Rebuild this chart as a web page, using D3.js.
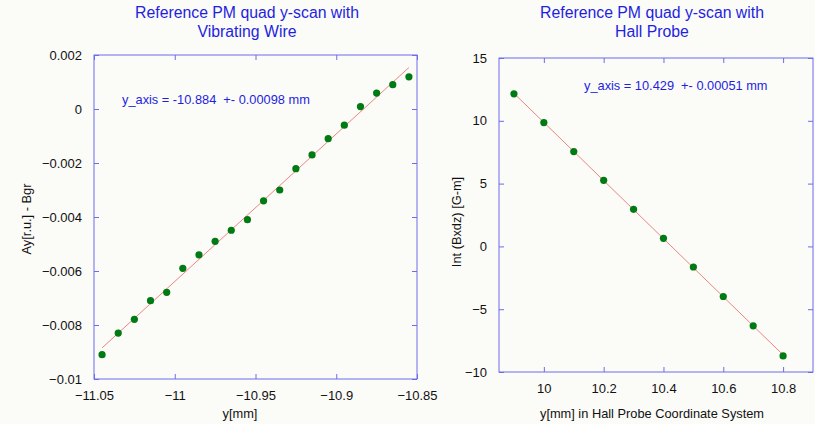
<!DOCTYPE html>
<html>
<head>
<meta charset="utf-8">
<script src="https://cdn.jsdelivr.net/npm/d3@7"></script>
<style>
  body { margin: 0; background: #fff; }
  svg { display: block; font-family: "Liberation Sans", Arial, sans-serif; }
</style>
</head>
<body>
<svg id="chart" width="815" height="424"></svg>
<script>
// left panel: vibrating wire scan
const vwY = [-11.045, -11.035, -11.025, -11.015, -11.005, -10.995, -10.985, -10.975, -10.965, -10.955,
             -10.945, -10.935, -10.925, -10.915, -10.905, -10.895, -10.885, -10.875, -10.865, -10.855];
const vwSignal = [-0.00910, -0.00830, -0.00779, -0.00710, -0.00679, -0.00590, -0.00540, -0.00490, -0.00449, -0.00410,
                  -0.00340, -0.00300, -0.00221, -0.00170, -0.00110, -0.00060, 0.00009, 0.00059, 0.00090, 0.00119];
const vwXTicks = [-11.05, -11, -10.95, -10.9, -10.85];
const vwYTicks = [-0.01, -0.008, -0.006, -0.004, -0.002, 0, 0.002];

// right panel: hall probe scan
const hpY = [9.9, 10.0, 10.1, 10.2, 10.3, 10.4, 10.5, 10.6, 10.7, 10.8];
const hpInt = [12.15, 9.86, 7.55, 5.26, 2.95, 0.64, -1.64, -3.99, -6.32, -8.72];
const hpXTicks = [10, 10.2, 10.4, 10.6, 10.8];
const hpYTicks = [-10, -5, 0, 5, 10, 15];

const svg = d3.select("#chart");
svg.append("rect").attr("width", 815).attr("height", 424).attr("fill", "#fbfbf8");

const frameCol = "#6c6cee";
const textBlue = "#1f1fe0";

function linfit(xs, ys) {
    const mx = d3.mean(xs), my = d3.mean(ys);
    let sxy = 0, sxx = 0;
    xs.forEach((x, i) => { sxy += (x - mx) * (ys[i] - my); sxx += (x - mx) * (x - mx); });
    const b = sxy / sxx;
    return { b: b, a: my - b * mx };
}

function panel(opt) {
    const g = svg.append("g");
    const x = d3.scaleLinear().domain(opt.xDomain).range([opt.left, opt.right]);
    const y = d3.scaleLinear().domain(opt.yDomain).range([opt.bottom, opt.top]);

    // frame
    g.append("rect")
        .attr("x", opt.left).attr("y", opt.top)
        .attr("width", opt.right - opt.left).attr("height", opt.bottom - opt.top)
        .attr("fill", "none").attr("stroke", frameCol);

    // axes, ticks pointing inward on all four sides
    const fmt = d => d3.format("")(+d.toPrecision(6));
    g.append("g").attr("transform", `translate(0,${opt.bottom})`)
        .call(d3.axisBottom(x).tickValues(opt.xTicks).tickSize(-5).tickPadding(12).tickFormat(fmt));
    g.append("g").attr("transform", `translate(0,${opt.top})`)
        .call(d3.axisTop(x).tickValues(opt.xTicks).tickSize(-5).tickFormat(""));
    g.append("g").attr("transform", `translate(${opt.left},0)`)
        .call(d3.axisLeft(y).tickValues(opt.yTicks).tickSize(-5).tickPadding(12).tickFormat(fmt));
    g.append("g").attr("transform", `translate(${opt.right},0)`)
        .call(d3.axisRight(y).tickValues(opt.yTicks).tickSize(-5).tickFormat(""));
    g.selectAll(".domain").remove();
    g.selectAll(".tick line").attr("stroke", frameCol);
    g.selectAll(".tick text").attr("fill", "#111").attr("font-size", 13)
        .attr("font-family", "Liberation Sans, Arial, sans-serif");

    // fit line
    const fit = linfit(opt.xs, opt.ys);
    const ends = d3.extent(opt.xs);
    g.append("line")
        .attr("x1", x(ends[0])).attr("y1", y(fit.a + fit.b * ends[0]))
        .attr("x2", x(ends[1])).attr("y2", y(fit.a + fit.b * ends[1]))
        .attr("stroke", "#ee7070").attr("stroke-width", 1).attr("opacity", 0.85);

    // points
    g.selectAll("circle").data(opt.xs).join("circle")
        .attr("cx", d => x(d)).attr("cy", (d, i) => y(opt.ys[i]))
        .attr("r", 3.6).attr("fill", "#007a12");

    // titles and labels
    g.append("text").attr("x", opt.titleX).attr("y", 18).attr("text-anchor", "middle")
        .attr("fill", textBlue).attr("font-size", 15.8).text(opt.title[0]);
    g.append("text").attr("x", opt.titleX).attr("y", 36.5).attr("text-anchor", "middle")
        .attr("fill", textBlue).attr("font-size", 15.8).text(opt.title[1]);
    g.append("text").attr("x", opt.xLabelX).attr("y", 418).attr("text-anchor", "middle")
        .attr("fill", "#111").attr("font-size", 12.8).text(opt.xLabel);
    g.append("text")
        .attr("transform", `translate(${opt.yLabelX},${opt.yLabelY}) rotate(-90)`)
        .attr("text-anchor", "middle").attr("fill", "#111").attr("font-size", 12.8).text(opt.yLabel);
    g.append("text").attr("x", opt.noteX).attr("y", opt.noteY).attr("dy", "0.35em")
        .attr("fill", textBlue).attr("font-size", 12.8).attr("xml:space", "preserve")
        .style("white-space", "pre").text(opt.note);
}

panel({
    xs: vwY, ys: vwSignal, xTicks: vwXTicks, yTicks: vwYTicks,
    xDomain: [-11.05, -10.85], yDomain: [-0.01, 0.002],
    left: 94, right: 417, top: 55, bottom: 379,
    title: ["Reference PM quad y-scan with", "Vibrating Wire"], titleX: 247,
    xLabel: "y[mm]", xLabelX: 240,
    yLabel: "Ay[r.u.] - Bgr", yLabelX: 31, yLabelY: 219,
    note: "y_axis = -10.884  +- 0.00098 mm", noteX: 122, noteY: 100
});

panel({
    xs: hpY, ys: hpInt, xTicks: hpXTicks, yTicks: hpYTicks,
    xDomain: [9.85, 10.9], yDomain: [-10, 15],
    left: 499, right: 813, top: 58, bottom: 372,
    title: ["Reference PM quad y-scan with", "Hall Probe"], titleX: 652,
    xLabel: "y[mm] in Hall Probe Coordinate System", xLabelX: 652,
    yLabel: "Int (Bxdz) [G-m]", yLabelX: 461, yLabelY: 222,
    note: "y_axis = 10.429  +- 0.00051 mm", noteX: 584, noteY: 86
});
</script>
</body>
</html>
